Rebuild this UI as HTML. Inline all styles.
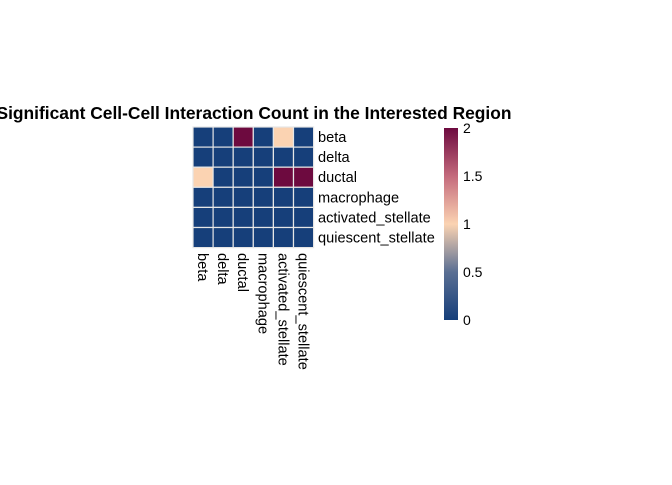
<!DOCTYPE html>
<html><head><meta charset="utf-8"><style>
body{margin:0;background:#fff;font-family:"Liberation Sans",Arial,sans-serif}
</style></head><body>
<svg width="672" height="480">
<defs><linearGradient id="cb" x1="0" y1="1" x2="0" y2="0">
<stop offset="0" stop-color="#163f7a"/><stop offset="0.25" stop-color="#5a6f93"/>
<stop offset="0.5" stop-color="#fbd3b2"/><stop offset="0.75" stop-color="#c46a7c"/>
<stop offset="1" stop-color="#6d0a3f"/></linearGradient></defs>
<text x="254" y="119" text-anchor="middle" font-weight="bold" font-size="17.4">Significant Cell-Cell Interaction Count in the Interested Region</text>
<g id="cells"></g><g id="rowlab"></g><g id="collab"></g>
<rect x="444" y="128" width="14" height="192" fill="url(#cb)"/>
<g id="cbticks"></g>
</svg>
<script>
const cats=["beta","delta","ductal","macrophage","activated_stellate","quiescent_stellate"];
const values=[[0,0,2,0,1,0],[0,0,0,0,0,0],[1,0,0,0,2,2],[0,0,0,0,0,0],[0,0,0,0,0,0],[0,0,0,0,0,0]];
const cbTicks=[0,0.5,1,1.5,2];
const NS="http://www.w3.org/2000/svg";
const x0=193,y0=127,cs=20.1,vmax=2;
function col(v){const t=v/vmax;
 const stops=[[0,[22,63,122]],[0.25,[90,111,147]],[0.5,[251,211,178]],[0.75,[196,106,124]],[1,[109,10,63]]];
 for(let i=1;i<stops.length;i++){if(t<=stops[i][0]){const a=stops[i-1],b=stops[i],f=(t-a[0])/(b[0]-a[0]);
 return "rgb("+a[1].map((c,k)=>Math.round(c+(b[1][k]-c)*f)).join(",")+")";}}return "rgb(109,10,63)";}
function el(tag,attrs,p){const e=document.createElementNS(NS,tag);for(const k in attrs)e.setAttribute(k,attrs[k]);p.appendChild(e);return e;}
const cg=document.getElementById("cells");
values.forEach((row,r)=>row.forEach((v,c)=>{
 const e=el("rect",{x:x0+c*cs,y:y0+r*cs,width:cs,height:cs,fill:col(v),stroke:"#e6e6e6","stroke-width":1.2},cg);
 
 
}));
const rl=document.getElementById("rowlab"),cl=document.getElementById("collab");
cats.forEach((n,i)=>{
 const t=el("text",{x:318,y:y0+i*cs+15,"font-size":14.6},rl);t.textContent=n;
 
 
 const cx=x0+i*cs+5;
 const u=el("text",{x:cx,y:253,"font-size":14.6,transform:"rotate(90 "+cx+" 253)"},cl);u.textContent=n;
 
 
});
const tg=document.getElementById("cbticks");
cbTicks.forEach(v=>{
 const y=320-v/vmax*192;
 const t=el("text",{x:463,y:y+5,"font-size":14},tg);t.textContent=v;
 
 
});
</script>
</body></html>
